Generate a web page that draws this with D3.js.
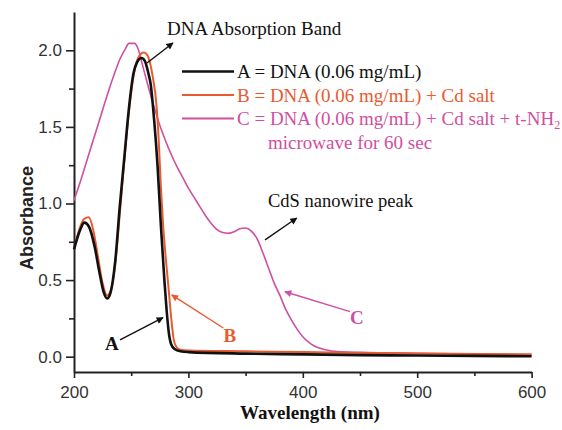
<!DOCTYPE html>
<html>
<head>
<meta charset="utf-8">
<script src="https://cdn.jsdelivr.net/npm/d3@7"></script>
<style>
  body { margin: 0; background: #fff; }
  svg { display: block; }
</style>
</head>
<body>
<div id="chart"></div>
<script>
// ### data
const wavelengthA = [200, 205, 209, 213, 218, 222, 226, 229, 232, 236, 240, 244, 248, 252, 255, 259, 262, 265, 267, 270, 273, 276, 279, 281, 283, 285, 288, 293, 300, 350, 400, 450, 500, 550, 600];
const absorbanceA = [0.70, 0.82, 0.875, 0.85, 0.72, 0.56, 0.42, 0.38, 0.42, 0.62, 0.98, 1.30, 1.62, 1.85, 1.92, 1.95, 1.93, 1.85, 1.78, 1.55, 1.25, 0.85, 0.50, 0.30, 0.15, 0.08, 0.05, 0.035, 0.03, 0.02, 0.015, 0.01, 0.008, 0.005, 0.003];

const wavelengthB = [200, 205, 209, 213, 217, 221, 225, 229, 232, 236, 240, 244, 248, 252, 256, 261, 264, 267, 269, 272, 274, 276, 278, 281, 283, 285, 287, 289, 293, 300, 350, 400, 500, 600];
const absorbanceB = [0.70, 0.84, 0.90, 0.91, 0.82, 0.65, 0.48, 0.40, 0.43, 0.60, 0.93, 1.28, 1.60, 1.83, 1.95, 1.985, 1.97, 1.90, 1.82, 1.65, 1.42, 1.10, 0.85, 0.58, 0.42, 0.25, 0.12, 0.07, 0.045, 0.04, 0.035, 0.03, 0.02, 0.015];

const wavelengthC = [200, 205, 210, 215, 220, 225, 230, 235, 240, 245, 248, 253, 256, 260, 265, 270, 275, 280, 285, 290, 295, 300, 305, 310, 315, 320, 325, 330, 335, 340, 345, 350, 355, 360, 365, 370, 375, 380, 385, 390, 395, 400, 405, 410, 420, 430, 450, 500, 550, 600];
const absorbanceC = [1.02, 1.13, 1.25, 1.37, 1.49, 1.61, 1.73, 1.84, 1.94, 2.01, 2.045, 2.045, 2.01, 1.90, 1.76, 1.63, 1.51, 1.41, 1.32, 1.24, 1.17, 1.10, 1.04, 0.98, 0.92, 0.87, 0.83, 0.81, 0.805, 0.815, 0.835, 0.84, 0.82, 0.77, 0.68, 0.58, 0.48, 0.40, 0.31, 0.24, 0.18, 0.13, 0.095, 0.07, 0.045, 0.033, 0.028, 0.022, 0.018, 0.015];

const seriesNames = ["A", "B", "C"];
const seriesColors = ["#111111", "#e85a30", "#cf4fa0"];
const legendLabels = ["A = DNA (0.06 mg/mL)", "B = DNA (0.06 mg/mL) + Cd salt", "C = DNA (0.06 mg/mL) + Cd salt + t-NH"];
const legendExtra = "microwave for 60 sec";

const xTicks = [200, 300, 400, 500, 600];
const xMinorTicks = [250, 350, 450, 550];
const yTicks = [0, 0.5, 1.0, 1.5, 2.0];
const yMinorTicks = [0.25, 0.75, 1.25, 1.75];

// annotation arrows: [from wavelength, from absorbance, to wavelength, to absorbance]
const bandArrow = [263.8, 1.917, 286.5, 2.048];
const cdsArrow = [367, 0.762, 394.7, 0.905];
const labelArrows = [[240.2, 0.109, 277.8, 0.255], [330.5, 0.187, 285.4, 0.403], [441.3, 0.294, 384.4, 0.424]];

const width = 562, height = 430;

const x = d3.scaleLinear().domain([200, 600]).range([74, 531.6]);
const y = d3.scaleLinear().domain([-0.1, 2.25]).range([372, 12]);

const svg = d3.select("#chart").append("svg")
  .attr("width", width)
  .attr("height", height)
  .style("background", "#fff");

const defs = svg.append("defs");
seriesColors.forEach((c, i) => {
  defs.append("marker")
    .attr("id", "arrow" + i)
    .attr("viewBox", "0 0 10 10")
    .attr("refX", 9).attr("refY", 5)
    .attr("markerWidth", 8).attr("markerHeight", 7)
    .attr("markerUnits", "userSpaceOnUse")
    .attr("orient", "auto")
    .append("path")
    .attr("d", "M0,0 L10,5 L0,10 z")
    .attr("fill", c);
});

// ### axes
const axisColor = "#222";
const tickFont = "'Liberation Sans', Arial, sans-serif";

svg.append("g")
  .attr("transform", `translate(0,${y(-0.1)})`)
  .call(d3.axisBottom(x).tickValues(xTicks).tickSize(6).tickSizeOuter(0).tickPadding(8).tickFormat(d3.format("d")));
svg.append("g")
  .attr("transform", `translate(0,${y(-0.1)})`)
  .call(d3.axisBottom(x).tickValues(xMinorTicks).tickSize(4).tickSizeOuter(0).tickFormat(""))
  .select(".domain").remove();

svg.append("g")
  .attr("transform", `translate(${x(200)},0)`)
  .call(d3.axisLeft(y).tickValues(yTicks).tickSize(8).tickSizeOuter(0).tickPadding(4).tickFormat(d3.format(".1f")));
svg.append("g")
  .attr("transform", `translate(${x(200)},0)`)
  .call(d3.axisLeft(y).tickValues(yMinorTicks).tickSize(5).tickSizeOuter(0).tickFormat(""))
  .select(".domain").remove();

svg.selectAll(".domain").attr("stroke", axisColor).attr("stroke-width", 2);
svg.selectAll(".tick line").attr("stroke", axisColor).attr("stroke-width", 1.6);
svg.selectAll(".tick text")
  .attr("fill", "#333")
  .style("font-family", tickFont)
  .style("font-size", "17px");

svg.append("text")
  .attr("transform", `translate(33,218) rotate(-90)`)
  .attr("text-anchor", "middle")
  .style("font-family", tickFont)
  .style("font-weight", "bold")
  .style("font-size", "18px")
  .attr("fill", "#222")
  .text("Absorbance");

const serif = "'Liberation Serif', 'Times New Roman', serif";

svg.append("text")
  .attr("x", 310).attr("y", 419)
  .attr("text-anchor", "middle")
  .style("font-family", serif)
  .style("font-weight", "bold")
  .style("font-size", "19px")
  .attr("fill", "#111")
  .text("Wavelength (nm)");

// ### curves
const series = [
  { w: wavelengthA, a: absorbanceA, width: 2.6 },
  { w: wavelengthB, a: absorbanceB, width: 2.0 },
  { w: wavelengthC, a: absorbanceC, width: 1.6 }
];

const line = d3.line()
  .x(d => x(d[0]))
  .y(d => y(d[1]))
  .curve(d3.curveMonotoneX);

// draw C first, then B, then A on top
[2, 1, 0].forEach(i => {
  const s = series[i];
  svg.append("path")
    .datum(d3.zip(s.w, s.a))
    .attr("fill", "none")
    .attr("stroke", seriesColors[i])
    .attr("stroke-width", s.width)
    .attr("stroke-linejoin", "round")
    .attr("d", line);
});

// ### legend
const legendBase = [78, 101.5, 125];
legendLabels.forEach((lab, i) => {
  svg.append("line")
    .attr("x1", 182).attr("x2", 234)
    .attr("y1", legendBase[i] - 6.5).attr("y2", legendBase[i] - 6.5)
    .attr("stroke", seriesColors[i])
    .attr("stroke-width", i === 0 ? 2.6 : 2);
  const t = svg.append("text")
    .attr("x", 237).attr("y", legendBase[i])
    .style("font-family", serif)
    .style("font-size", "19px")
    .attr("fill", i === 0 ? "#111" : seriesColors[i])
    .text(lab);
  if (i === 2) {
    t.append("tspan").attr("dy", 4).style("font-size", "12px").text("2");
  }
});
svg.append("text")
  .attr("x", 268).attr("y", 148.5)
  .style("font-family", serif)
  .style("font-size", "19px")
  .attr("fill", seriesColors[2])
  .text(legendExtra);

// ### annotations
svg.append("text")
  .attr("x", 167).attr("y", 35)
  .style("font-family", serif)
  .style("font-size", "19px")
  .attr("fill", "#111")
  .text("DNA Absorption Band");

svg.append("text")
  .attr("x", 268).attr("y", 206.5)
  .style("font-family", serif)
  .style("font-size", "18.5px")
  .attr("fill", "#111")
  .text("CdS nanowire peak");

[bandArrow, cdsArrow].forEach(a => {
  svg.append("line")
    .attr("x1", x(a[0])).attr("y1", y(a[1]))
    .attr("x2", x(a[2])).attr("y2", y(a[3]))
    .attr("stroke", "#111").attr("stroke-width", 1.4)
    .attr("marker-end", "url(#arrow0)");
});

labelArrows.forEach((a, i) => {
  svg.append("line")
    .attr("x1", x(a[0])).attr("y1", y(a[1]))
    .attr("x2", x(a[2])).attr("y2", y(a[3]))
    .attr("stroke", seriesColors[i]).attr("stroke-width", 1.4)
    .attr("marker-end", `url(#arrow${i})`);
});

const labelPos = [[105, 350], [223.5, 341.5], [350, 323.5]];
seriesNames.forEach((n, i) => {
  svg.append("text")
    .attr("x", labelPos[i][0]).attr("y", labelPos[i][1])
    .style("font-family", serif)
    .style("font-weight", "bold")
    .style("font-size", "19px")
    .attr("fill", seriesColors[i])
    .text(n);
});
</script>
</body>
</html>
